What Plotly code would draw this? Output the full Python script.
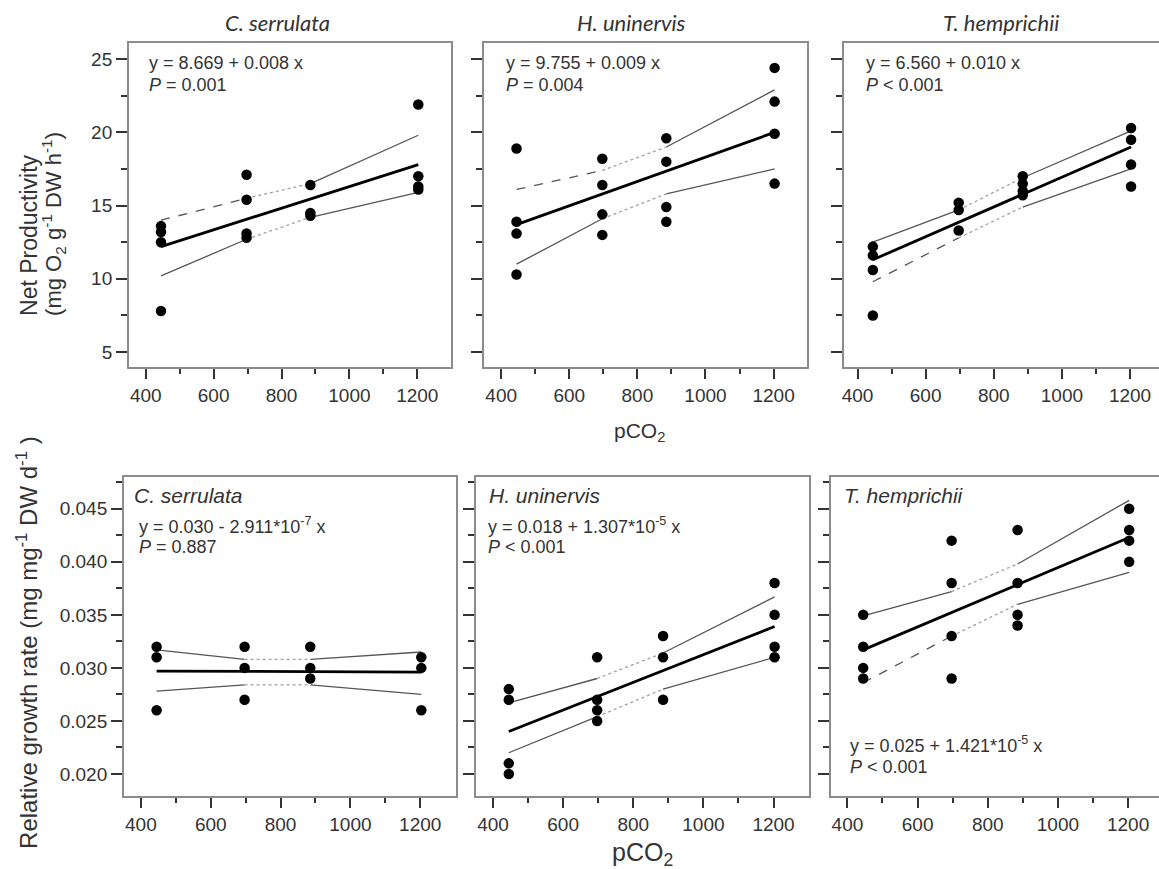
import plotly.graph_objects as go

# ---------------- data ----------------
pco2_levels = [445, 697, 885, 1203]

np_cs = [[13.6, 13.2, 12.5, 7.8], [17.1, 15.4, 13.1, 12.8], [16.4, 14.5, 14.3], [21.9, 17.0, 16.3, 16.1]]
np_hu = [[18.9, 13.9, 13.1, 10.3], [18.2, 16.4, 14.4, 13.0], [19.6, 18.0, 14.9, 13.9], [24.4, 22.1, 19.9, 16.5]]
np_th = [[12.2, 11.6, 10.6, 7.5], [15.2, 14.7, 13.3], [17.0, 16.5, 16.0, 15.7], [20.3, 19.5, 17.8, 16.3]]
rgr_cs = [[0.032, 0.031, 0.026], [0.032, 0.030, 0.027], [0.032, 0.030, 0.029], [0.031, 0.030, 0.026]]
rgr_hu = [[0.028, 0.027, 0.021, 0.020], [0.031, 0.027, 0.026, 0.025], [0.033, 0.031, 0.027], [0.038, 0.035, 0.032, 0.031]]
rgr_th = [[0.035, 0.032, 0.030, 0.029], [0.042, 0.038, 0.033, 0.029], [0.043, 0.038, 0.035, 0.034], [0.045, 0.043, 0.042, 0.040]]

# fitted line values at lowest and highest pCO2
fit_np_cs = [12.2, 17.8]
fit_np_hu = [13.7, 20.0]
fit_np_th = [11.3, 19.0]
fit_rgr_cs = [0.0297, 0.0296]
fit_rgr_hu = [0.0240, 0.0339]
fit_rgr_th = [0.0317, 0.0423]

# confidence band values at each pCO2 level
ciu_np_cs = [14.0, 15.5, 16.5, 19.8]
cil_np_cs = [10.2, 12.7, 14.2, 15.9]
ciu_np_hu = [16.1, 17.4, 19.0, 22.9]
cil_np_hu = [11.0, 14.1, 15.8, 17.5]
ciu_np_th = [12.5, 14.7, 16.9, 20.1]
cil_np_th = [9.8, 12.8, 14.9, 17.5]
ciu_rgr_cs = [0.0317, 0.0308, 0.0308, 0.0315]
cil_rgr_cs = [0.0278, 0.0284, 0.0284, 0.0275]
ciu_rgr_hu = [0.0267, 0.0290, 0.0314, 0.0367]
cil_rgr_hu = [0.0220, 0.0254, 0.0280, 0.0310]
ciu_rgr_th = [0.0349, 0.0372, 0.0398, 0.0458]
cil_rgr_th = [0.0286, 0.0330, 0.0360, 0.0390]

species = ["C. serrulata", "H. uninervis", "T. hemprichii"]
x_ticks = [400, 600, 800, 1000, 1200]
x_minor = [500, 700, 900, 1100]
np_ticks = [5, 10, 15, 20, 25]
np_minor = [7.5, 12.5, 17.5, 22.5]
rgr_ticks = [0.020, 0.025, 0.030, 0.035, 0.040, 0.045]
rgr_minor = [0.0225, 0.0275, 0.0325, 0.0375, 0.0425, 0.0475]

equations = [
    ("y = 8.669 + 0.008 x", "<i>P</i> = 0.001"),
    ("y = 9.755 + 0.009 x", "<i>P</i> = 0.004"),
    ("y = 6.560 + 0.010 x", "<i>P</i> < 0.001"),
    ("y = 0.030 - 2.911*10<sup>-7</sup> x", "<i>P</i> = 0.887"),
    ("y = 0.018 + 1.307*10<sup>-5</sup> x", "<i>P</i> < 0.001"),
    ("y = 0.025 + 1.421*10<sup>-5</sup> x", "<i>P</i> < 0.001"),
]

# ---------------- layout geometry ----------------
W, H = 1159, 869
def px(x):
    return x / W
def py(y):
    return 1 - y / H

panels = [
    dict(data=np_cs, fit=fit_np_cs, ciu=ciu_np_cs, cil=cil_np_cs, us=["dash", "dot", "solid"], ls=["solid", "dot", "solid"],
         xd=[127, 450], yd=[43, 367], xr=[350, 1300], yr=[3.98, 26.1], right=True),
    dict(data=np_hu, fit=fit_np_hu, ciu=ciu_np_hu, cil=cil_np_hu, us=["dash", "dot", "solid"], ls=["solid", "dot", "solid"],
         xd=[483, 806], yd=[43, 367], xr=[350, 1297], yr=[3.98, 26.1], right=True),
    dict(data=np_th, fit=fit_np_th, ciu=ciu_np_th, cil=cil_np_th, us=["solid", "dot", "solid"], ls=["dash", "dot", "solid"],
         xd=[843, 1159], yd=[43, 367], xr=[359, 1285], yr=[3.98, 26.1], right=False),
    dict(data=rgr_cs, fit=fit_rgr_cs, ciu=ciu_rgr_cs, cil=cil_rgr_cs, us=["solid", "dot", "solid"], ls=["solid", "dot", "solid"],
         xd=[122, 455], yd=[477, 796], xr=[351, 1303], yr=[0.01792, 0.0480], right=True),
    dict(data=rgr_hu, fit=fit_rgr_hu, ciu=ciu_rgr_hu, cil=cil_rgr_hu, us=["solid", "dot", "solid"], ls=["solid", "dot", "solid"],
         xd=[475, 808], yd=[477, 796], xr=[352, 1300], yr=[0.01792, 0.0480], right=True),
    dict(data=rgr_th, fit=fit_rgr_th, ciu=ciu_rgr_th, cil=cil_rgr_th, us=["solid", "dot", "solid"], ls=["dash", "dot", "solid"],
         xd=[830, 1159], yd=[477, 796], xr=[352, 1288], yr=[0.01792, 0.0480], right=False),
]

fig = go.Figure()
SANS = "Arial, Liberation Sans, sans-serif"
TICKFONT = dict(family=SANS, size=19, color="#333")
FRAME = "#8c8c8c"

for i, p in enumerate(panels):
    k = i + 1
    xa = "x" if k == 1 else f"x{k}"
    ya = "y" if k == 1 else f"y{k}"
    xs, ys = [], []
    for lvl, vals in zip(pco2_levels, p["data"]):
        for v in vals:
            xs.append(lvl)
            ys.append(v)
    for vals, styles in ((p["ciu"], p["us"]), (p["cil"], p["ls"])):
        for s in range(3):
            col = "#a0a0a0" if styles[s] == "dot" else "#555555"
            fig.add_trace(go.Scatter(
                x=pco2_levels[s:s + 2], y=vals[s:s + 2], mode="lines",
                line=dict(color=col, width=1.3, dash=styles[s]),
                xaxis=xa, yaxis=ya, showlegend=False, hoverinfo="skip"))
    fig.add_trace(go.Scatter(
        x=[pco2_levels[0], pco2_levels[-1]], y=p["fit"], mode="lines",
        line=dict(color="black", width=2.8), xaxis=xa, yaxis=ya, showlegend=False))
    fig.add_trace(go.Scatter(
        x=xs, y=ys, mode="markers", marker=dict(color="black", size=10.5),
        xaxis=xa, yaxis=ya, showlegend=False))

    top = i < 3
    xkey = "xaxis" if k == 1 else f"xaxis{k}"
    ykey = "yaxis" if k == 1 else f"yaxis{k}"
    fig.layout[xkey] = dict(
        domain=[px(p["xd"][0]), px(p["xd"][1])], range=p["xr"], anchor=ya,
        showline=True, linecolor=FRAME, linewidth=1.5, mirror=True,
        showgrid=False, zeroline=False,
        tickmode="array", tickvals=x_ticks, ticks="outside", ticklen=10, tickwidth=2, tickcolor="#333",
        minor=dict(tickmode="array", tickvals=x_minor, ticks="outside", ticklen=5, tickwidth=2, tickcolor="#333"),
        tickfont=TICKFONT)
    fig.layout[ykey] = dict(
        domain=[py(p["yd"][1]), py(p["yd"][0])], range=p["yr"], anchor=xa,
        showline=True, linecolor=FRAME, linewidth=1.5, mirror=p["right"],
        showgrid=False, zeroline=False,
        tickmode="array", tickvals=np_ticks if top else rgr_ticks,
        ticktext=[str(v) for v in np_ticks] if top else [f"{v:.3f}" for v in rgr_ticks],
        ticks="outside", ticklen=11, tickwidth=2, tickcolor="#333",
        minor=dict(tickmode="array", tickvals=np_minor if top else rgr_minor, ticks="outside", ticklen=6, tickwidth=2, tickcolor="#333"),
        showticklabels=(k in (1, 4)), tickfont=TICKFONT)

ann = []
TXT = "#333"
EQF = dict(family=SANS, size=18, color=TXT)
for cx, name in zip([276, 631, 1001], species):
    ann.append(dict(x=px(cx), y=py(22), xref="paper", yref="paper", text=f"<i>{name}</i>",
                    showarrow=False, xanchor="center", yanchor="middle",
                    font=dict(family="Lato, Open Sans, sans-serif", size=22, color=TXT)))
for (lx, eq) in zip([145, 503, 863], equations[:3]):
    ann.append(dict(x=px(lx), y=py(63), xref="paper", yref="paper", text=eq[0], showarrow=False,
                    xanchor="left", yanchor="middle", font=EQF))
    ann.append(dict(x=px(lx), y=py(85), xref="paper", yref="paper", text=eq[1], showarrow=False,
                    xanchor="left", yanchor="middle", font=EQF))
for lx, name in zip([130, 486, 841], species):
    ann.append(dict(x=px(lx), y=py(495), xref="paper", yref="paper", text=f"<i>{name}</i>", showarrow=False,
                    xanchor="left", yanchor="middle", font=dict(family=SANS, size=21, color=TXT)))
for (lx, y1, y2, eq) in zip([135, 485, 847], [525, 525, 744], [547, 547, 767], equations[3:]):
    ann.append(dict(x=px(lx), y=py(y1), xref="paper", yref="paper", text=eq[0], showarrow=False,
                    xanchor="left", yanchor="middle", font=EQF))
    ann.append(dict(x=px(lx), y=py(y2), xref="paper", yref="paper", text=eq[1], showarrow=False,
                    xanchor="left", yanchor="middle", font=EQF))
ann.append(dict(x=px(639), y=py(432), xref="paper", yref="paper", text="pCO<sub>2</sub>", showarrow=False,
                xanchor="center", yanchor="middle", font=dict(family=SANS, size=21, color=TXT)))
ann.append(dict(x=px(642), y=py(854), xref="paper", yref="paper", text="pCO<sub>2</sub>", showarrow=False,
                xanchor="center", yanchor="middle", font=dict(family=SANS, size=25, color=TXT)))
ann.append(dict(x=px(27), y=py(318), xref="paper", yref="paper", text="Net Productivity", showarrow=False,
                textangle=-90, xanchor="center", yanchor="bottom",
                font=dict(family=SANS, size=23, color=TXT)))
ann.append(dict(x=px(51), y=py(318), xref="paper", yref="paper",
                text="(mg O<sub>2</sub> g<sup>-1</sup> DW h<sup>-1</sup>)", showarrow=False,
                textangle=-90, xanchor="center", yanchor="bottom",
                font=dict(family=SANS, size=22, color=TXT)))
ann.append(dict(x=px(25), y=py(642), xref="paper", yref="paper",
                text="Relative growth rate (mg mg<sup>-1</sup> DW d<sup>-1</sup> )", showarrow=False,
                textangle=-90, xanchor="center", yanchor="middle",
                font=dict(family=SANS, size=24, color=TXT)))

fig.update_layout(width=W, height=H, margin=dict(l=0, r=0, t=0, b=0),
                  paper_bgcolor="white", plot_bgcolor="white", annotations=ann)
fig.write_html("out.html", config={"displayModeBar": False},
               post_script="document.body.style.margin='0';document.body.style.padding='0';document.body.style.overflow='hidden';")
